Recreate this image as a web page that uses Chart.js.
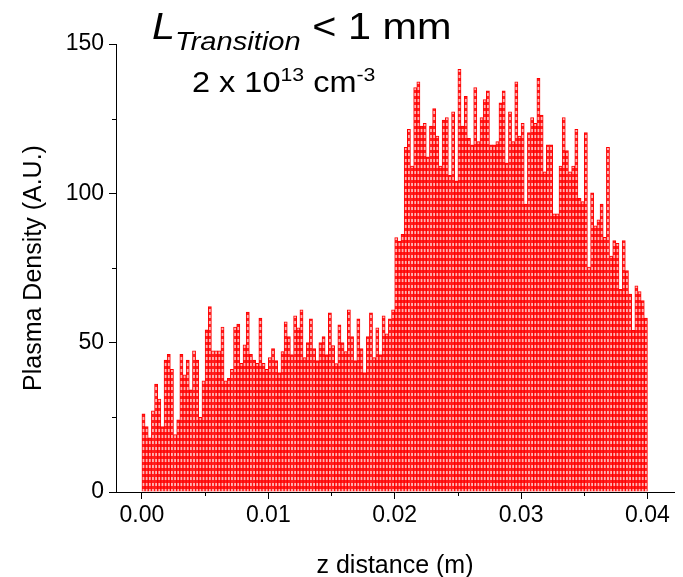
<!DOCTYPE html>
<html>
<head>
<meta charset="utf-8">
<script src="https://cdn.jsdelivr.net/npm/chart.js@4.4.1/dist/chart.umd.min.js"></script>
<style>
  html, body { margin: 0; padding: 0; background: #fff; }
  #wrap { position: relative; width: 683px; height: 577px; }
  #wrap canvas { position: absolute; left: 0; top: 0; }
  .note { position: absolute; left: 0; top: 0; font-family: 'Liberation Sans', Arial, sans-serif; color: #000;
          white-space: nowrap; line-height: 1; transform-origin: 0 0; transform: scaleX(1.12); }
  .note .lo { position: relative; font-style: italic; }
  .note sup { position: relative; vertical-align: baseline; }
</style>
</head>
<body>
<div id="wrap">
  <canvas id="chart" width="683" height="577"></canvas>
  <div class="note" id="title1" style="left:152px; top:8px; font-size:37px;"><i>L</i><span class="lo" style="font-size:26px; top:11px;">Transition</span> &lt; 1 mm</div>
  <div class="note" id="title2" style="left:192px; top:68px; font-size:29px;">2 x 10<sup style="font-size:19px; top:-11px;">13</sup> cm<sup style="font-size:19px; top:-11px;">-3</sup></div>
</div>
<script>
// histogram of plasma density along z, 160 bins of 0.25 mm from z = 0
const zStart = 0;
const binWidth = 0.00025;
const density = [
  26.2, 21.9, 18.1, 27.2, 36.1, 31.1, 21.9, 44.2, 46.1, 41.1,
  19.2, 24.2, 46.1, 39.2, 44.2, 34.2, 47.3, 44.2, 25.0, 37.2,
  54.3, 62.1, 47.3, 47.3, 47.3, 55.2, 37.2, 38.1, 41.1, 55.2,
  56.2, 43.1, 49.3, 60.2, 46.1, 44.2, 43.1, 58.2, 43.1, 41.1,
  45, 48, 44, 40, 47, 57, 52, 46, 59, 55,
  61, 45, 50, 58, 48, 44, 50, 52, 46, 60,
  49, 43, 56, 50, 47, 61, 52, 44, 58, 48,
  40, 52, 60, 45, 55, 46, 59, 53, 58, 61,
  85.2, 84.0, 86.3, 115.4, 121.4, 109.1, 135.4, 137.3, 122.5, 123.4,
  112.2, 122.5, 128.4, 119.2, 109.1, 124.5, 125.4, 106.1, 127.3, 104.2,
  141.5, 122.5, 132.5, 118.4, 116.2, 135.4, 117.3, 125.4, 131.4, 134.3,
  116.2, 116.2, 117.3, 130.3, 134.3, 110.2, 127.3, 117.3, 137.3, 119.2,
  123.4, 96.4, 120.3, 125.4, 123.4, 138.5, 126.2, 107.2, 116.2, 116.2,
  93.1, 93.1, 109.1, 125.4, 114.3, 107.2, 109.1, 121.4, 98.3, 97.2,
  120.3, 75.3, 100.2, 89.1, 91.1, 96.4, 85.3, 115.4, 79.0, 84.2,
  83.3, 67.9, 84.2, 74.1, 66.3, 54.1, 69.0, 67.1, 64.1, 58.2
];
const xMajor = [0, 0.01, 0.02, 0.03, 0.04];
const xMinor = [0.005, 0.015, 0.025, 0.035];
const yMinor = [25, 75, 125];

const points = density.map((v, i) => ({ x: zStart + (i + 0.5) * binWidth, y: v }));

// red dashed hatch inside each bar
function hatch() {
  const c = document.createElement('canvas');
  c.width = 1; c.height = 6;
  const g = c.getContext('2d');
  g.fillStyle = '#ffb4b4'; g.fillRect(0, 0, 1, 6);
  g.fillStyle = '#ff2020'; g.fillRect(0, 0, 1, 3);
  return g.createPattern(c, 'repeat');
}

const minorTicks = {
  id: 'minorTicks',
  afterDraw(chart) {
    const { ctx, chartArea, scales: { x, y } } = chart;
    ctx.save();
    ctx.strokeStyle = '#000';
    ctx.lineWidth = 1;
    ctx.beginPath();
    xMinor.forEach(v => {
      const px = Math.round(x.getPixelForValue(v)) + 0.5;
      ctx.moveTo(px, chartArea.bottom); ctx.lineTo(px, chartArea.bottom + 4);
    });
    yMinor.forEach(v => {
      const py = Math.round(y.getPixelForValue(v)) + 0.5;
      ctx.moveTo(chartArea.left - 4, py); ctx.lineTo(chartArea.left, py);
    });
    ctx.stroke();
    ctx.restore();
  }
};

Chart.defaults.font.family = "'Liberation Sans', Arial, sans-serif";
Chart.defaults.color = '#000';

new Chart(document.getElementById('chart'), {
  type: 'bar',
  data: {
    datasets: [{
      data: points,
      backgroundColor: hatch(),
      borderColor: '#ff0000',
      borderWidth: 1,
      barPercentage: 1,
      categoryPercentage: 1
    }]
  },
  options: {
    responsive: false,
    devicePixelRatio: 1,
    animation: false,
    layout: { padding: { top: 44, right: 9, left: 0, bottom: 0 } },
    plugins: { legend: { display: false }, tooltip: { enabled: false } },
    scales: {
      x: {
        type: 'linear',
        offset: false,
        min: -0.00205,
        max: 0.0421,
        afterBuildTicks: s => { s.ticks = xMajor.map(v => ({ value: v })); },
        afterFit: s => { s.height = 85; },
        ticks: { font: { size: 23 }, padding: 3, maxRotation: 0, callback: v => v.toFixed(2) },
        grid: { offset: false, drawOnChartArea: false, tickLength: 7, color: '#000', tickColor: '#000' },
        border: { color: '#000', width: 1 },
        title: { display: true, text: 'z distance (m)', font: { size: 25 }, padding: { top: 0, bottom: -4 } }
      },
      y: {
        min: 0,
        max: 150,
        afterFit: s => { s.width = 116; },
        ticks: { stepSize: 50, font: { size: 23 }, padding: 5 },
        grid: { drawOnChartArea: false, tickLength: 7, color: '#000', tickColor: '#000' },
        border: { color: '#000', width: 1 },
        title: { display: true, text: 'Plasma Density (A.U.)', font: { size: 25 }, padding: { top: 19, bottom: 0 } }
      }
    }
  },
  plugins: [minorTicks]
});
</script>
</body>
</html>
